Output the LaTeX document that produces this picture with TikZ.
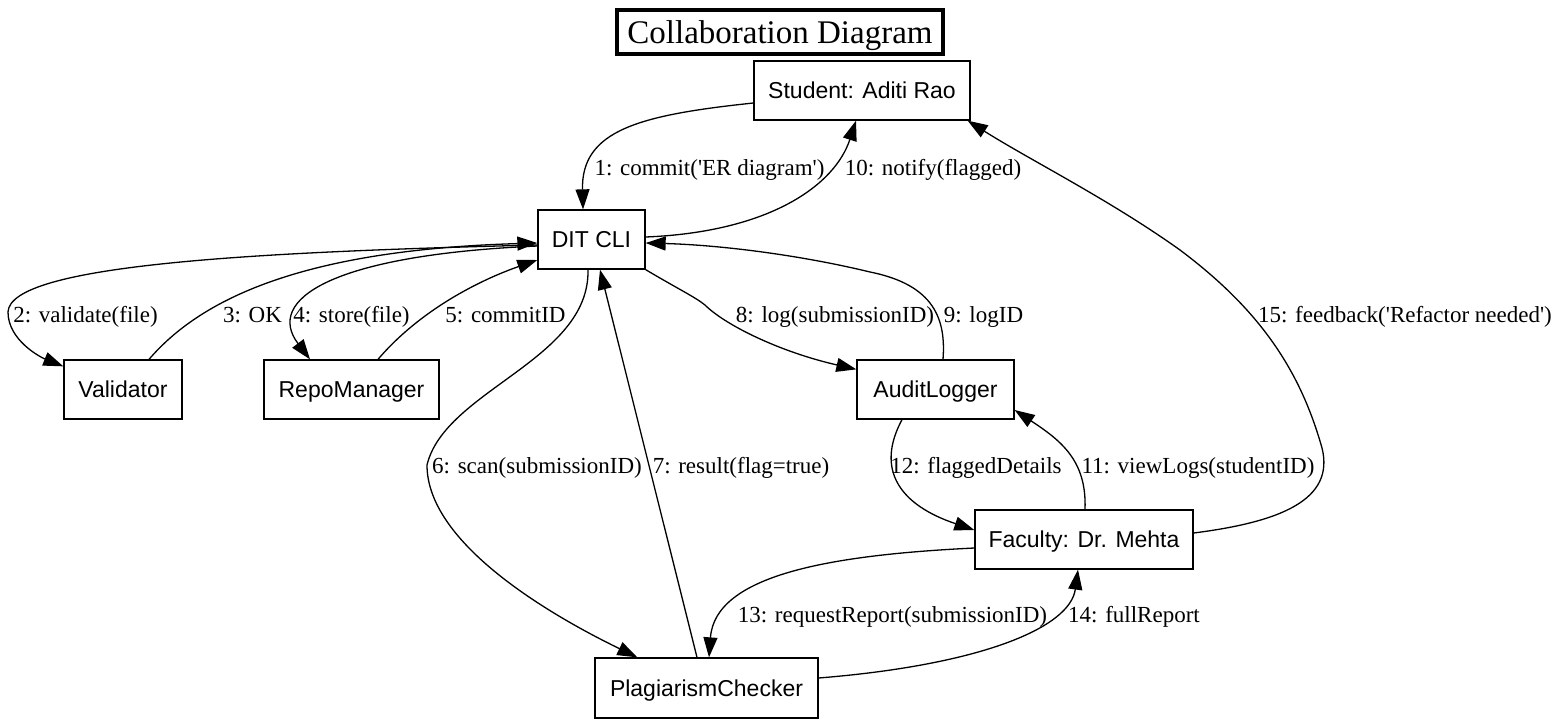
\documentclass[tikz,border=0pt]{standalone}
\usepackage{fontspec}
\setmainfont{Liberation Serif}
\newfontfamily\arialfont{Liberation Sans}
\usetikzlibrary{arrows.meta,calc}
\tikzset{
  obj/.style={draw, line width=1.3pt, inner sep=0pt, font=\arialfont\fontsize{23}{27}\selectfont, text height=16.5pt, text depth=0pt, minimum height=59pt},
  lbl/.style={inner sep=0pt, anchor=base, font=\fontsize{23}{27}\selectfont},
  msg/.style={line width=1.3pt, -{Triangle[length=20pt,width=14pt]}},
}
\begin{document}
\begin{tikzpicture}[x=1pt,y=-1pt]
\useasboundingbox (0,0) rectangle (1561,726);
\fill[white] (0,0) rectangle (1561,726);
% title
\node[draw, line width=4pt, minimum width=326pt, minimum height=44pt, inner sep=0pt,
  font=\fontsize{33}{38}\selectfont, text height=22pt, text depth=0pt] (title) at (780,32) {Collaboration Diagram};
% objects
\node[obj, minimum width=216pt] (stu) at (862,90.5) {Student: Aditi Rao};
\node[obj, minimum width=107pt] (dit) at (591.5,239.5) {DIT CLI};
\node[obj, minimum width=118pt] (val) at (123,389.5) {Validator};
\node[obj, minimum width=175pt] (repo) at (351.5,389.5) {RepoManager};
\node[obj, minimum width=157pt] (aud) at (935.5,389.5) {AuditLogger};
\node[obj, minimum width=218pt] (fac) at (1084,539.5) {Faculty: Dr. Mehta};
\node[obj, minimum width=223pt, minimum height=60pt] (plag) at (706.5,688) {PlagiarismChecker};
% 1
\draw[msg] ($(stu.west)+(0,12.5)$) .. controls (640,115) and (581,130) .. ($(dit.north)+(-8.5,0)$);
% 10
\draw[msg] ($(dit.east)+(0,-2.5)$) .. controls (770,232) and (835,185) .. ($(stu.south)+(-6,0)$);
% 2
\draw[msg] ($(dit.west)+(0,5.5)$) .. controls (250,252) and (10,265) .. (8,312) .. controls (8,340) and (40,357) .. ($(val.north west)+(0,7)$);
% 3
\draw[msg] ($(val.north)+(26,0)$) .. controls (200,300) and (300,250) .. ($(dit.west)+(0,3.5)$);
% 4
\draw[msg] ($(dit.west)+(0,6.5)$) .. controls (330,255) and (265,300) .. ($(repo.north)+(-41.5,0)$);
% 5
\draw[msg] ($(repo.north)+(26.5,0)$) .. controls (420,310) and (480,280) .. ($(dit.west)+(0,20.5)$);
% 6
\draw[msg] ($(dit.south)+(-3.5,0)$) .. controls (590,360) and (445,390) .. (427,465) .. controls (427,540) and (540,610) .. ($(plag.north west)+(43,0)$);
% 7
\draw[msg] ($(plag.north)+(-9.5,0)$) -- ($(dit.south)+(8.5,0)$);
% 8
\draw[msg] (dit.south east) .. controls (680,290) and (695,297) .. (705,305) .. controls (725,325) and (780,352) .. ($(aud.north west)+(0,10)$);
% 9
\draw[msg] ($(aud.north)+(7.5,0)$) .. controls (946,320) and (935,285) .. (870,272) .. controls (800,255) and (720,245) .. ($(dit.east)+(0,3.5)$);
% 12
\draw[msg] ($(aud.south)+(-33.5,0)$) .. controls (875,470) and (900,505) .. ($(fac.west)+(0,-9.5)$);
% 11
\draw[msg] ($(fac.north)+(1,0)$) .. controls (1087,460) and (1060,440) .. ($(aud.east)+(0,20.5)$);
% 13
\draw[msg] ($(fac.west)+(0,8.5)$) .. controls (830,555) and (715,575) .. ($(plag.north)+(2.5,0)$);
% 14
\draw[msg] ($(plag.east)+(0,-10)$) .. controls (980,665) and (1070,628) .. ($(fac.south)+(-6,0)$);
% 15
\draw[msg] ($(fac.east)+(0,-6.5)$) .. controls (1280,522) and (1335,500) .. (1322,448) .. controls (1300,370) and (1260,310) .. (1180,250) .. controls (1110,200) and (1030,160) .. ($(stu.south east)+(-3,0)$);
% labels
\node[lbl] (l1) at (709.5,175) {1: commit(\textquotesingle ER diagram\textquotesingle)};
\node[lbl] (l10) at (933,175) {10: notify(flagged)};
\node[lbl] (l2) at (85.5,322) {2: validate(file)};
\node[lbl] (l3) at (252.5,322) {3: OK};
\node[lbl] (l4) at (351.5,322) {4: store(file)};
\node[lbl] (l5) at (505.5,322) {5: commitID};
\node[lbl] (l8) at (835,322) {8: log(submissionID)};
\node[lbl] (l9) at (983.5,322) {9: logID};
\node[lbl] (l15) at (1405,322) {15: feedback(\textquotesingle Refactor needed\textquotesingle)};
\node[lbl] (l6) at (537,473) {6: scan(submissionID)};
\node[lbl] (l7) at (741,473) {7: result(flag=true)};
\node[lbl] (l12) at (976,473) {12: flaggedDetails};
\node[lbl] (l11) at (1198,473) {11: viewLogs(studentID)};
\node[lbl] (l13) at (892.5,622) {13: requestReport(submissionID)};
\node[lbl] (l14) at (1134,622) {14: fullReport};
\end{tikzpicture}
\end{document}
